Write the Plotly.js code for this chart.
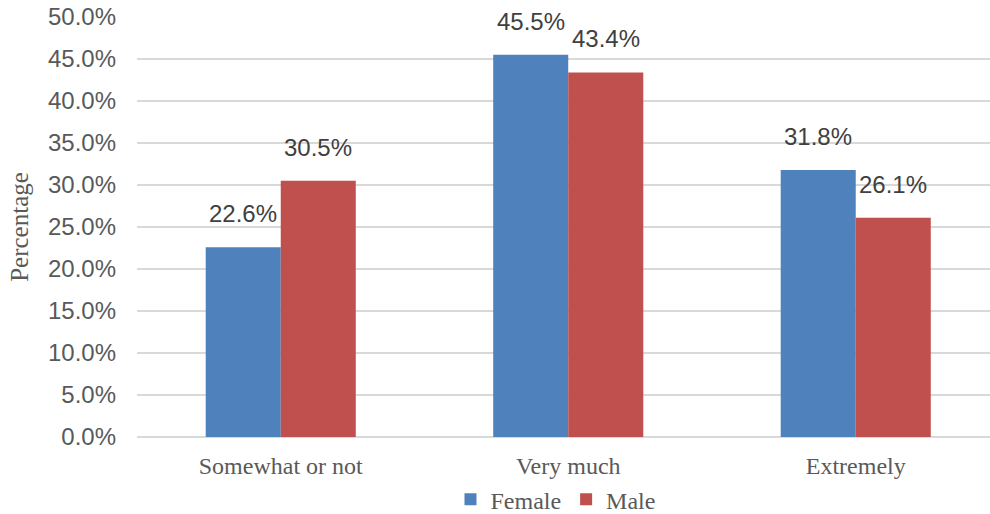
<!DOCTYPE html>
<html>
<head>
<meta charset="utf-8">
<script src="https://cdn.plot.ly/plotly-3.0.1.min.js"></script>
<style>
  html, body { margin: 0; padding: 0; background: #fff; }
  #chart { width: 990px; height: 514px; }
  #chart .legendtext { font-family: "Liberation Serif", serif !important; }
</style>
</head>
<body>
<div id="chart"></div>
<script>
// Level of response by gender
const categories = ['Somewhat or not', 'Very much', 'Extremely'];
const femaleValues = [0.226, 0.455, 0.318];
const maleValues = [0.305, 0.434, 0.261];
const seriesNames = ['Female', 'Male'];
const tickValues = [0, 0.05, 0.10, 0.15, 0.20, 0.25, 0.30, 0.35, 0.40, 0.45, 0.50];

const colors = ['#4F81BD', '#C0504D'];
const serif = 'Liberation Serif, serif';
const sans = 'Liberation Sans, sans-serif';

const series = [femaleValues, maleValues];
const traces = series.map((vals, i) => ({
  type: 'bar',
  name: seriesNames[i],
  x: categories,
  y: vals,
  marker: { color: colors[i] },
  hoverinfo: 'x+y'
}));

// Value labels sit a little above each bar, centred on it
const barOffsetPx = 37.5;
const annotations = [];
series.forEach((vals, i) => {
  vals.forEach((v, j) => {
    annotations.push({
      x: categories[j],
      y: v,
      xref: 'x',
      yref: 'y',
      text: (v * 100).toFixed(1) + '%',
      showarrow: false,
      xanchor: 'center',
      yanchor: 'bottom',
      xshift: (i === 0 ? -1 : 1) * barOffsetPx,
      yshift: 18,
      font: { family: sans, size: 24, color: '#404040' }
    });
  });
});

const layout = {
  width: 990,
  height: 514,
  margin: { l: 137, r: 0, t: 17, b: 77 },
  paper_bgcolor: '#ffffff',
  plot_bgcolor: '#ffffff',
  font: { family: serif, size: 24, color: '#595959' },
  barmode: 'group',
  bargap: 0.478,
  bargroupgap: 0,
  showlegend: true,
  legend: {
    orientation: 'h',
    xref: 'paper',
    x: 0.4906,
    xanchor: 'center',
    yref: 'container',
    y: 0.028,
    yanchor: 'middle',
    bgcolor: 'rgba(0,0,0,0)',
    font: { family: serif, size: 24, color: '#595959' },
    itemwidth: 30,
    traceorder: 'normal'
  },
  xaxis: {
    type: 'category',
    range: [-0.5, 2.467],
    showgrid: false,
    showline: false,
    zeroline: false,
    ticks: '',
    tickfont: { family: serif, size: 24, color: '#595959' },
    ticklabelstandoff: 12
  },
  yaxis: {
    range: [0, 0.5],
    tickvals: tickValues,
    tickformat: '.1%',
    showgrid: true,
    gridcolor: '#d9d9d9',
    gridwidth: 1.5,
    zeroline: true,
    zerolinecolor: '#d9d9d9',
    zerolinewidth: 2,
    showline: false,
    ticks: '',
    ticklabelstandoff: 20,
    tickfont: { family: sans, size: 24, color: '#595959' },
    title: {
      text: 'Percentage',
      font: { family: serif, size: 25, color: '#595959' },
      standoff: 12
    }
  },
  annotations: annotations
};

Plotly.newPlot('chart', traces, layout, { displayModeBar: false, staticPlot: true });
</script>
</body>
</html>
